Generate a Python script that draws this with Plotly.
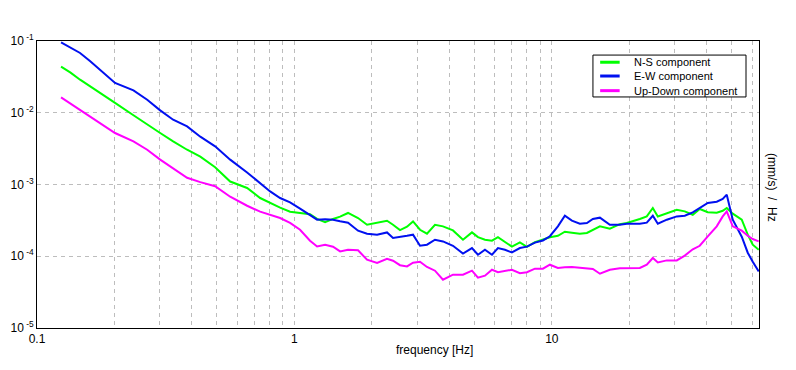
import plotly.graph_objects as go

# Frequencies [Hz] (shared by the three spectra)
FREQ = [0.124, 0.135, 0.147, 0.161, 0.176, 0.201, 0.237, 0.268, 0.301, 0.338,
        0.383, 0.431, 0.492, 0.563, 0.655, 0.736, 0.805, 0.880, 0.962, 1.052,
        1.150, 1.225, 1.316, 1.413, 1.505, 1.616, 1.767, 1.915, 2.095, 2.290,
        2.416, 2.572, 2.739, 2.890, 3.076, 3.274, 3.517, 3.778, 4.131, 4.518,
        4.896, 5.166, 5.500, 5.855, 6.178, 6.576, 7.000, 7.518, 8.006, 8.598,
        9.236, 9.831, 10.56, 11.24, 11.97, 12.85, 13.69, 14.44, 15.38, 16.81,
        18.38, 19.56, 21.02, 21.98, 23.39, 24.69, 25.82, 27.98, 30.59, 32.86,
        35.29, 37.57, 40.36, 43.73, 46.14, 47.83, 50.47, 54.70, 57.71, 60.35,
        63.67]

# N-S component, (mm/s)/sqrt(Hz)
NS = [0.0438, 0.0362, 0.0289, 0.0231, 0.0189, 0.0137, 0.00924, 0.00681, 0.00522, 0.00399,
      0.00305, 0.00244, 0.00174, 0.00110, 0.000894, 0.000648, 0.000549, 0.000475, 0.000418, 0.000405,
      0.000386, 0.000331, 0.000298, 0.000331, 0.000356, 0.000401, 0.000341, 0.000275, 0.000291, 0.000313,
      0.000275, 0.000231, 0.000258, 0.000306, 0.000234, 0.000206, 0.000275, 0.000261, 0.000229, 0.000170,
      0.000215, 0.000185, 0.000170, 0.000165, 0.000185, 0.000160, 0.000136, 0.000156, 0.000135, 0.000157,
      0.000173, 0.000184, 0.000193, 0.000220, 0.000213, 0.000206, 0.000211, 0.000234, 0.000261, 0.000242,
      0.000280, 0.000291, 0.000313, 0.000331, 0.000359, 0.000471, 0.000359, 0.000401, 0.000445, 0.000422,
      0.000379, 0.000456, 0.000411, 0.000405, 0.000431, 0.000471, 0.000392, 0.000323, 0.000200, 0.000145,
      0.000123]

# E-W component
EW = [0.0956, 0.0807, 0.0681, 0.0523, 0.0398, 0.0260, 0.0205, 0.0152, 0.0108, 0.00800,
      0.00645, 0.00464, 0.00340, 0.00222, 0.00147, 0.00103, 0.000801, 0.000648, 0.000563, 0.000460,
      0.000379, 0.000323, 0.000328, 0.000323, 0.000308, 0.000294, 0.000227, 0.000206, 0.000200, 0.000215,
      0.000180, 0.000185, 0.000193, 0.000200, 0.000140, 0.000145, 0.000170, 0.000161, 0.000140, 0.000109,
      0.000130, 0.000105, 0.000123, 0.000105, 0.000130, 0.000123, 0.000113, 0.000130, 0.000136, 0.000155,
      0.000166, 0.000190, 0.000261, 0.000367, 0.000313, 0.000284, 0.000291, 0.000331, 0.000345, 0.000275,
      0.000275, 0.000284, 0.000284, 0.000284, 0.000294, 0.000367, 0.000284, 0.000323, 0.000359, 0.000367,
      0.000408, 0.000471, 0.000552, 0.000576, 0.000628, 0.000721, 0.000323, 0.000187, 0.000112, 0.0000839,
      0.0000615]

# Up-Down component
UD = [0.0164, 0.0134, 0.0110, 0.00881, 0.00720, 0.00522, 0.00399, 0.00305, 0.00222, 0.00170,
      0.00124, 0.00108, 0.000947, 0.000676, 0.000506, 0.000418, 0.000379, 0.000341, 0.000291, 0.000234,
      0.000165, 0.000137, 0.000145, 0.000136, 0.000117, 0.000123, 0.000121, 0.0000895, 0.0000805, 0.0000924,
      0.0000867, 0.0000750, 0.0000722, 0.0000813, 0.0000839, 0.0000708, 0.0000629, 0.0000471, 0.0000553, 0.0000553,
      0.0000629, 0.0000502, 0.0000536, 0.0000649, 0.0000599, 0.0000619, 0.0000649, 0.0000580, 0.0000599, 0.0000671,
      0.0000671, 0.0000762, 0.0000686, 0.0000704, 0.0000708, 0.0000692, 0.0000681, 0.0000664, 0.0000571, 0.0000649,
      0.0000681, 0.0000686, 0.0000686, 0.0000686, 0.0000762, 0.0000945, 0.0000821, 0.0000876, 0.0000876, 0.000102,
      0.000125, 0.000140, 0.000189, 0.000261, 0.000359, 0.000422, 0.000261, 0.000227, 0.000193, 0.000174,
      0.000161]

SERIES_NAMES = ["N-S component", "E-W component", "Up-Down component"]
SERIES_COLORS = ["#00ff00", "#0010f0", "#ff00ff"]

# Axis ticks / gridlines
X_GRID = [m * 10 ** e for e in (-1, 0, 1) for m in range(1, 10) if m * 10 ** e <= 64]
X_LABELS = {0.1: "0.1", 1: "1", 10: "10"}
Y_TICKS = [1e-5, 1e-4, 1e-3, 1e-2, 1e-1]
Y_LABELS = ["10<sup> -5</sup>", "10<sup> -4</sup>", "10<sup> -3</sup>", "10<sup> -2</sup>", "10<sup> -1</sup>"]
X_TITLE = "frequency [Hz]"
Y_TITLE = "(mm/s)  /  Hz"

FONT = "Arial, Liberation Sans, sans-serif"
GRID = "#bdbdbd"

fig = go.Figure()
for name, vals, col in zip(SERIES_NAMES, [NS, EW, UD], SERIES_COLORS):
    fig.add_trace(go.Scatter(x=FREQ, y=vals, mode="lines", name=name,
                             line=dict(color=col, width=2), showlegend=False))

xt_text = []
for v in X_GRID:
    lab = ""
    for k, s in X_LABELS.items():
        if abs(v - k) < 1e-9:
            lab = s
    xt_text.append(lab)

# Legend box drawn in paper coordinates (top-right inside the plot)
shapes = [dict(type="rect", xref="paper", yref="paper",
               x0=0.770, x1=0.982, y0=0.805, y1=0.951,
               line=dict(color="black", width=1), fillcolor="white", layer="above")]
annotations = []
leg_y = [0.926, 0.878, 0.827]
for name, col, yy in zip(SERIES_NAMES, SERIES_COLORS, leg_y):
    shapes.append(dict(type="line", xref="paper", yref="paper",
                       x0=0.780, x1=0.807, y0=yy, y1=yy,
                       line=dict(color=col, width=3), layer="above"))
    annotations.append(dict(text=name, xref="paper", yref="paper",
                            x=0.824, y=yy, xanchor="left", yanchor="middle",
                            showarrow=False, font=dict(size=11, family=FONT, color="black")))

annotations.append(dict(text=Y_TITLE, xref="paper", yref="paper",
                        x=1.017, y=0.49, textangle=90, showarrow=False,
                        font=dict(size=12, family=FONT, color="black"),
                        xanchor="center", yanchor="middle"))
annotations.append(dict(text=X_TITLE, xref="paper", yref="paper",
                        x=0.55, y=-0.077, showarrow=False,
                        font=dict(size=12, family=FONT, color="black"),
                        xanchor="center", yanchor="middle"))

fig.update_layout(
    width=788, height=362,
    margin=dict(l=29, r=37, t=33, b=42, autoexpand=False),
    paper_bgcolor="white", plot_bgcolor="white",
    font=dict(family=FONT, size=11, color="black"),
    showlegend=False,
    xaxis=dict(type="log", range=[-1, 1.805],
               tickmode="array", tickvals=X_GRID, ticktext=xt_text,
               showgrid=True, gridcolor=GRID, griddash="4px,4px", gridwidth=1,
               showline=True, linecolor="black", linewidth=1, mirror=True,
               ticks="", zeroline=False, automargin=False,
               tickfont=dict(size=12, family=FONT)),
    yaxis=dict(type="log", range=[-5, -1],
               tickmode="array", tickvals=Y_TICKS, ticktext=Y_LABELS,
               showgrid=True, gridcolor=GRID, griddash="4px,4px", gridwidth=1,
               showline=True, linecolor="black", linewidth=1, mirror=True,
               ticks="", zeroline=False, automargin=False,
               tickfont=dict(size=12, family=FONT)),
    shapes=shapes,
    annotations=annotations,
)

fig.write_html("out.html")
